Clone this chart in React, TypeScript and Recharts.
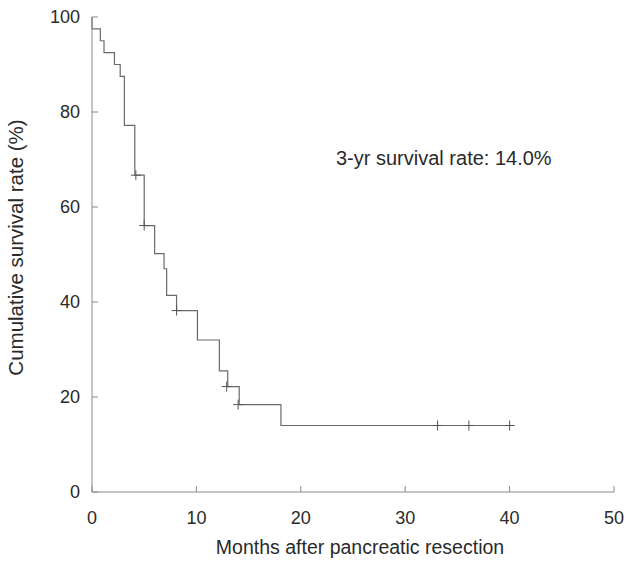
import { ComposedChart, Line, Scatter, XAxis, YAxis, Label } from 'recharts'

// Kaplan-Meier curve (months, % surviving)
const eventMonths = [0, 0, 0.8, 1.15, 2.15, 2.7, 3.1, 4.1, 5.0, 6.0, 6.9, 7.15, 8.1, 10.1, 12.2, 13.0, 14.1, 18.1, 40]
const survival = [100, 97.5, 95.0, 92.5, 90.0, 87.5, 77.2, 66.7, 56.1, 50.2, 47.0, 41.4, 38.2, 32.0, 25.5, 22.2, 18.4, 14.0, 14.0]

// censored observations
const censorMonths = [4.2, 5.0, 8.1, 12.9, 14.0, 33.1, 36.1, 40.0]
const censorSurvival = [66.7, 56.1, 38.2, 22.2, 18.4, 14.0, 14.0, 14.0]

const xTicks = [0, 10, 20, 30, 40, 50]
const yTicks = [0, 20, 40, 60, 80, 100]

const FONT = 'Liberation Sans'
const AXIS = '#8a8a8a'
const INK = '#2a2a2a'

const curve = eventMonths.map((t, i) => ({ t, s: survival[i] }))
const censored = censorMonths.map((t, i) => ({ t, s: censorSurvival[i] }))

function Cross(props: { cx?: number; cy?: number }) {
  const { cx = 0, cy = 0 } = props
  return (
    <g stroke="#555" strokeWidth={1}>
      <line x1={cx - 5} x2={cx + 5} y1={cy} y2={cy} />
      <line x1={cx} x2={cx} y1={cy - 5} y2={cy + 5} />
    </g>
  )
}

export default function App() {
  return (
    <div style={{ position: 'absolute', left: 0, top: 0, background: '#fff' }}>
      <ComposedChart width={636} height={563} margin={{ top: 17, right: 22, bottom: 0, left: 0 }}>
        <XAxis
          dataKey="t"
          type="number"
          domain={[0, 50]}
          ticks={xTicks}
          height={71}
          tickSize={-6}
          tickMargin={25}
          stroke={AXIS}
          tick={{ fontSize: 18, fontFamily: FONT, fill: INK }}
          allowDuplicatedCategory={false}
        >
          <Label value="Months after pancreatic resection" position="insideBottom" offset={9} dx={7}
            style={{ fontSize: 19.5, fontFamily: FONT, fill: INK }} />
        </XAxis>
        <YAxis
          type="number"
          domain={[0, 100]}
          ticks={yTicks}
          width={92}
          tickSize={-6}
          tickMargin={18}
          stroke={AXIS}
          tick={{ fontSize: 18, fontFamily: FONT, fill: INK }}
        >
          <Label value="Cumulative survival rate (%)" angle={-90} position="insideLeft" offset={16} dy={-7}
            style={{ textAnchor: 'middle', fontSize: 20.5, fontFamily: FONT, fill: INK }} />
        </YAxis>
        <Line data={curve} dataKey="s" type="stepAfter" stroke="#6a6a6a" strokeWidth={1.2}
          dot={false} activeDot={false} isAnimationActive={false} />
        <Scatter data={censored} dataKey="s" shape={<Cross />} isAnimationActive={false} />
        <text x={336} y={165} fontSize={20} fontFamily={FONT} fill={INK}>3-yr survival rate: 14.0%</text>
      </ComposedChart>
    </div>
  )
}
